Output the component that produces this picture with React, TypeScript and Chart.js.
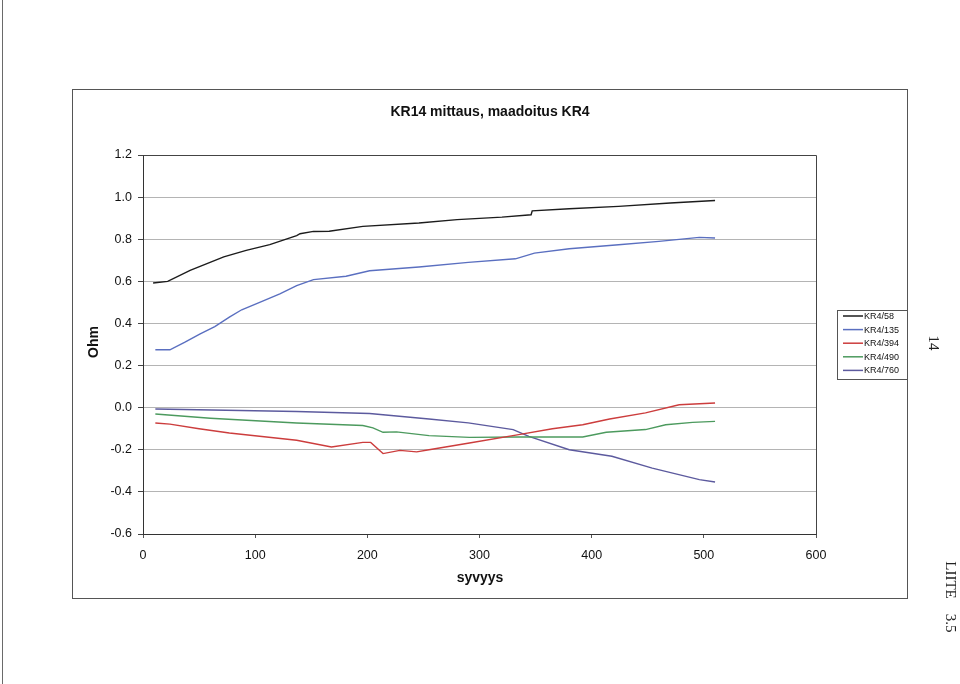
import React, { useEffect, useRef } from "react";
import { Chart, registerables } from "chart.js";

Chart.register(...registerables);

const TITLE = "KR14 mittaus, maadoitus KR4";
const X_TITLE = "syvyys";
const Y_TITLE = "Ohm";
const X_MIN = 0;
const X_MAX = 600;
const X_STEP = 100;
const Y_MIN = -0.6;
const Y_MAX = 1.2;
const Y_STEP = 0.2;

const seriesLabels = ["KR4/58", "KR4/135", "KR4/394", "KR4/490", "KR4/760"];
const seriesColors = ["#1c1c1c", "#5a6fc0", "#cc3d3d", "#4c9a5e", "#5c5a9e"];

const depth58 = [9, 22, 42, 72, 92, 113, 137, 140, 152, 166, 196, 246, 280, 320, 346, 347, 380, 424, 470, 510];
const ohm58 = [0.592, 0.6, 0.652, 0.716, 0.747, 0.774, 0.817, 0.826, 0.837, 0.838, 0.861, 0.877, 0.893, 0.905, 0.916, 0.935, 0.945, 0.956, 0.972, 0.984];

const depth135 = [11, 24, 37, 51, 64, 77, 88, 104, 122, 137, 152, 181, 202, 246, 290, 332, 349, 380, 424, 460, 496, 510];
const ohm135 = [0.275, 0.275, 0.31, 0.35, 0.385, 0.43, 0.465, 0.5, 0.54, 0.58, 0.608, 0.624, 0.65, 0.668, 0.69, 0.707, 0.734, 0.755, 0.774, 0.79, 0.809, 0.806];

const depth394 = [11, 24, 50, 77, 137, 168, 196, 203, 214, 229, 244, 255, 291, 335, 365, 392, 416, 448, 478, 510];
const ohm394 = [-0.073, -0.078, -0.1, -0.12, -0.155, -0.187, -0.165, -0.165, -0.218, -0.203, -0.21, -0.2, -0.168, -0.128, -0.1, -0.081, -0.054, -0.025, 0.014, 0.022];

const depth490 = [11, 60, 137, 196, 205, 214, 226, 255, 291, 335, 392, 413, 448, 466, 490, 510];
const ohm490 = [-0.03, -0.05, -0.073, -0.085, -0.096, -0.117, -0.115, -0.133, -0.141, -0.139, -0.139, -0.117, -0.104, -0.081, -0.07, -0.065];

const depth760 = [11, 137, 202, 255, 290, 330, 344, 380, 418, 454, 496, 510];
const ohm760 = [-0.006, -0.018, -0.028, -0.054, -0.072, -0.104, -0.136, -0.2, -0.231, -0.287, -0.342, -0.353];

const seriesDepths = [depth58, depth135, depth394, depth490, depth760];
const seriesValues = [ohm58, ohm135, ohm394, ohm490, ohm760];

const SANS = 'Arial, "Liberation Sans", sans-serif';
const SERIF = '"Liberation Serif", "DejaVu Serif", serif';

const decorPlugin = {
  id: "decor",
  beforeDraw(chart: any) {
    const ctx = chart.ctx;
    ctx.save();
    ctx.fillStyle = "#ffffff";
    ctx.fillRect(0, 0, chart.width, chart.height);
    ctx.restore();
  },
  afterDraw(chart: any) {
    const ctx = chart.ctx;
    const ca = chart.chartArea;
    ctx.save();
    // outer chart frame
    ctx.strokeStyle = "#555555";
    ctx.lineWidth = 1;
    ctx.strokeRect(72.5, 89.5, 835, 509);
    // plot area top/right border
    ctx.strokeStyle = "#444444";
    ctx.beginPath();
    ctx.moveTo(Math.round(ca.left) + 0.5, Math.round(ca.top) + 0.5);
    ctx.lineTo(Math.round(ca.right) + 0.5, Math.round(ca.top) + 0.5);
    ctx.lineTo(Math.round(ca.right) + 0.5, Math.round(ca.bottom) + 0.5);
    ctx.stroke();
    // scan edge line
    ctx.strokeStyle = "#6a6a6a";
    ctx.beginPath();
    ctx.moveTo(2.5, 0);
    ctx.lineTo(2.5, 684);
    ctx.stroke();

    // title
    ctx.fillStyle = "#111111";
    ctx.textAlign = "center";
    ctx.textBaseline = "middle";
    ctx.font = `bold 14px ${SANS}`;
    ctx.fillText(TITLE, 490, 112);
    // x title
    ctx.fillText(X_TITLE, 480, 578);
    // y title
    ctx.save();
    ctx.translate(94, 342);
    ctx.rotate(-Math.PI / 2);
    ctx.fillText(Y_TITLE, 0, 0);
    ctx.restore();

    // legend
    ctx.strokeStyle = "#555555";
    ctx.lineWidth = 1;
    ctx.strokeRect(837.5, 310.5, 70, 69);
    ctx.font = `9px ${SANS}`;
    ctx.textAlign = "left";
    chart.data.datasets.forEach((ds: any, i: number) => {
      const y = 316 + i * 13.6;
      ctx.strokeStyle = ds.borderColor;
      ctx.lineWidth = 1.5;
      ctx.beginPath();
      ctx.moveTo(843, y);
      ctx.lineTo(863, y);
      ctx.stroke();
      ctx.fillStyle = "#111111";
      ctx.fillText(ds.label, 864, y + 0.5);
    });

    // page side text
    ctx.fillStyle = "#222222";
    ctx.font = `15px ${SERIF}`;
    ctx.textAlign = "center";
    const side = (t: string, x: number, y: number) => {
      ctx.save();
      ctx.translate(x, y);
      ctx.rotate(Math.PI / 2);
      ctx.fillText(t, 0, 0);
      ctx.restore();
    };
    side("14", 933, 343);
    side("LIITE", 950, 580);
    side("3.5", 950, 623);
    ctx.restore();
  },
};

export default function App() {
  const ref = useRef<HTMLCanvasElement | null>(null);

  useEffect(() => {
    if (!ref.current) return;
    const datasets = seriesLabels.map((label, i) => ({
      label,
      data: seriesDepths[i].map((d, j) => ({ x: d, y: seriesValues[i][j] })),
      borderColor: seriesColors[i],
      backgroundColor: seriesColors[i],
      borderWidth: 1.4,
      pointRadius: 0,
      tension: 0,
      fill: false,
    }));
    const chart = new Chart(ref.current, {
      type: "line",
      data: { datasets },
      plugins: [decorPlugin],
      options: {
        animation: false,
        responsive: false,
        events: [],
        layout: { padding: { left: 72, top: 155, right: 144, bottom: 120 } },
        plugins: {
          legend: { display: false },
          title: { display: false },
          tooltip: { enabled: false },
        },
        scales: {
          x: {
            type: "linear",
            min: X_MIN,
            max: X_MAX,
            ticks: {
              stepSize: X_STEP,
              color: "#111111",
              font: { family: SANS, size: 12.5 },
              padding: 10,
              maxRotation: 0,
              autoSkip: false,
            },
            grid: { drawOnChartArea: false, drawTicks: true, tickLength: 4, tickColor: "#555555" },
            border: { color: "#333333", width: 1 },
            afterFit: (s: any) => {
              s.height = 30;
            },
          },
          y: {
            type: "linear",
            min: Y_MIN,
            max: Y_MAX,
            ticks: {
              stepSize: Y_STEP,
              color: "#111111",
              font: { family: SANS, size: 12.5 },
              padding: 6,
              callback: (v: any) => (Math.abs(Number(v)) < 1e-9 ? "0.0" : Number(v).toFixed(1)),
            },
            grid: { color: "#b4b4b4", lineWidth: 1, drawTicks: true, tickLength: 5, tickColor: "#444444" },
            border: { color: "#333333", width: 1 },
            afterFit: (s: any) => {
              s.width = 71;
            },
          },
        },
      },
    });
    return () => chart.destroy();
  }, []);

  return (
    <div style={{ position: "fixed", left: 0, top: 0, width: 960, height: 684, background: "#fff" }}>
      <canvas ref={ref} width={960} height={684} style={{ display: "block" }} />
    </div>
  );
}
